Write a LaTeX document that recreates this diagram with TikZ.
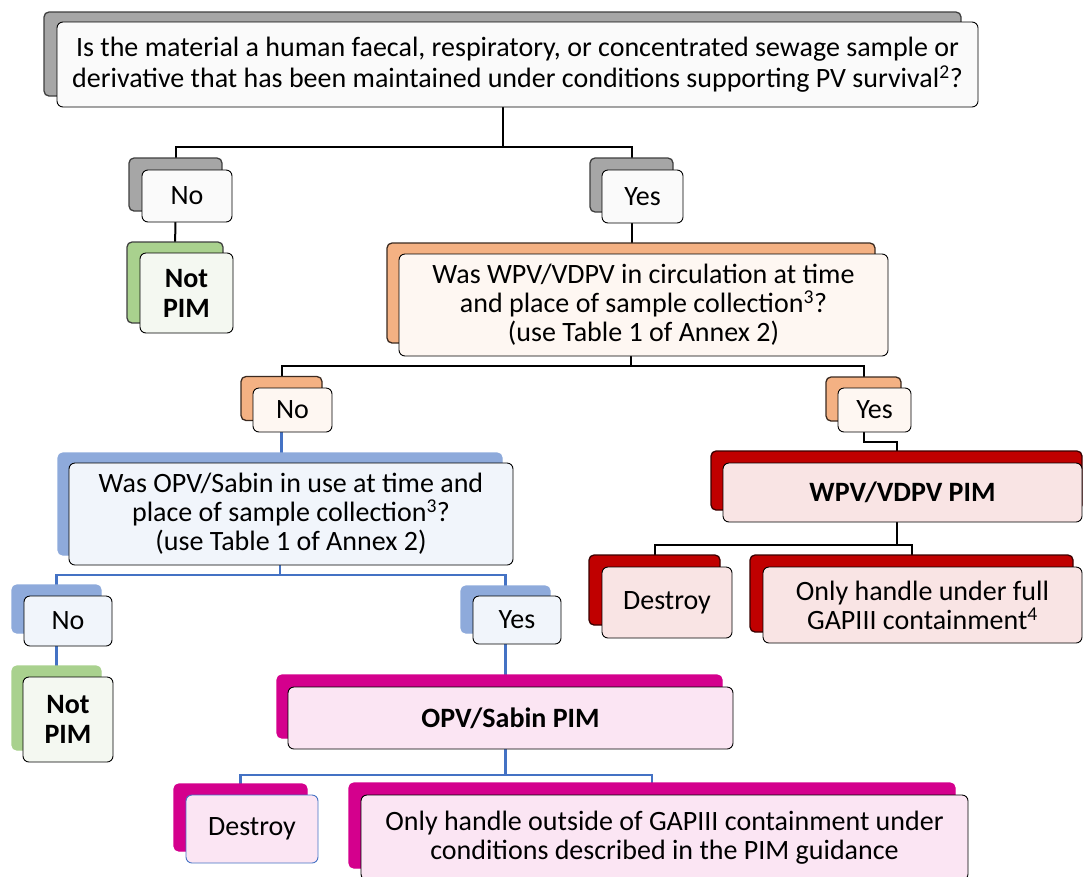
\documentclass[tikz,border=0pt]{standalone}
\usepackage{fontspec}
\setmainfont{Carlito}
\usetikzlibrary{backgrounds}
\definecolor{grayb}{HTML}{A6A6A6}
\definecolor{grayd}{HTML}{3F3F3F}
\definecolor{grayf}{HTML}{FAFAFA}
\definecolor{greenb}{HTML}{A9D18E}
\definecolor{greenf}{HTML}{F4F8F1}
\definecolor{orangeb}{HTML}{F4B183}
\definecolor{oranged}{HTML}{3B2A20}
\definecolor{orangef}{HTML}{FEF7F2}
\definecolor{blueb}{HTML}{8EAADB}
\definecolor{bluef}{HTML}{F1F5FB}
\definecolor{redb}{HTML}{C00000}
\definecolor{redd}{HTML}{3A0000}
\definecolor{redf}{HTML}{F9E4E4}
\definecolor{magb}{HTML}{D4008D}
\definecolor{magf}{HTML}{FBE5F3}
\definecolor{conblue}{HTML}{4472C4}
\begin{document}
\begin{tikzpicture}[x=1pt,y=-1pt,
  bk/.style={rectangle,rounded corners=5pt,inner sep=0pt,outer sep=0pt,line width=1.3pt},
  fr/.style={rectangle,rounded corners=6pt,draw=black,line width=0.9pt,inner sep=0pt,outer sep=0pt,align=center,font=\fontsize{28}{29}\selectfont},
  bf/.style={font=\fontsize{28}{30}\selectfont\bfseries},
  bl/.style={line width=2pt,draw=black},
  blu/.style={line width=2.2pt,draw=conblue},
]
\useasboundingbox (0,0) rectangle (1083,876);
% top
\node[bk,fill=grayb,draw=grayd,minimum width=917pt,minimum height=84pt] (topb) at (502.5,54) {};
\node[fr,fill=grayf,minimum width=921pt,minimum height=85pt,font=\fontsize{28}{31}\selectfont] (topf) at (517.5,64.5) {Is the material a human faecal, respiratory, or concentrated sewage sample or\\derivative that has been maintained under conditions supporting PV survival\textsuperscript{2}?};
% level 1
\node[bk,fill=grayb,draw=grayd,minimum width=93pt,minimum height=53pt] (no1b) at (175.5,184.5) {};
\node[fr,fill=grayf,minimum width=90pt,minimum height=52pt] (no1f) at (187,196) {No};
\node[bk,fill=grayb,draw=grayd,minimum width=83pt,minimum height=54pt] (yes1b) at (631.5,185) {};
\node[fr,fill=grayf,minimum width=81pt,minimum height=53pt] (yes1f) at (642.5,196.5) {Yes};
\node[bk,fill=greenb,draw=grayd,minimum width=96pt,minimum height=81pt] (np1b) at (175,282.5) {};
\node[fr,fill=greenf,bf,minimum width=93pt,minimum height=80pt] (np1f) at (186.5,293) {Not\\PIM};
% orange question
\node[bk,fill=orangeb,draw=oranged,minimum width=488pt,minimum height=100pt] (oqb) at (631,293) {};
\node[fr,fill=orangef,minimum width=489pt,minimum height=102pt] (oqf) at (643.5,305) {Was WPV/VDPV in circulation at time\\and place of sample collection\textsuperscript{3}?\\(use Table 1 of Annex 2)};
\node[bk,fill=orangeb,draw=oranged,minimum width=81pt,minimum height=44pt] (no2b) at (281.5,398.5) {};
\node[fr,fill=orangef,minimum width=79pt,minimum height=44pt] (no2f) at (292.5,410) {No};
\node[bk,fill=orangeb,draw=oranged,minimum width=75pt,minimum height=44pt] (yes2b) at (863.5,399) {};
\node[fr,fill=orangef,minimum width=73pt,minimum height=44pt] (yes2f) at (874.5,410) {Yes};
% red branch
\node[bk,fill=redb,draw=redd,minimum width=371pt,minimum height=59pt] (wpvb) at (896.5,480.5) {};
\node[fr,fill=redf,bf,minimum width=359pt,minimum height=59pt] (wpvf) at (902.5,492.5) {WPV/VDPV PIM};
\node[bk,fill=redb,draw=redd,minimum width=131pt,minimum height=70pt] (rdb) at (654.5,590) {};
\node[fr,fill=redf,minimum width=130pt,minimum height=71pt] (rdf) at (667,602.5) {Destroy};
\node[bk,fill=redb,draw=redd,minimum width=323pt,minimum height=77pt] (rfb) at (911.5,593.5) {};
\node[fr,fill=redf,minimum width=319pt,minimum height=76pt] (rff) at (922.5,605) {Only handle under full\\GAPIII containment\textsuperscript{4}};
% blue question
\node[bk,fill=blueb,draw=blueb,minimum width=444pt,minimum height=102pt] (qbb) at (280,504) {};
\node[fr,fill=bluef,minimum width=444pt,minimum height=102pt] (qbf) at (291,514) {Was OPV/Sabin in use at time and\\place of sample collection\textsuperscript{3}?\\(use Table 1 of Annex 2)};
\node[bk,fill=blueb,draw=blueb,minimum width=89pt,minimum height=48pt] (no3b) at (56.5,609) {};
\node[fr,fill=bluef,minimum width=88pt,minimum height=50pt] (no3f) at (68,621) {No};
\node[bk,fill=blueb,draw=blueb,minimum width=89pt,minimum height=47pt] (yes3b) at (505.5,609.5) {};
\node[fr,fill=bluef,minimum width=88pt,minimum height=48pt] (yes3f) at (517,620) {Yes};
\node[bk,fill=greenb,draw=greenb,minimum width=89pt,minimum height=84pt] (np2b) at (56.5,708) {};
\node[fr,fill=greenf,bf,minimum width=90pt,minimum height=85pt] (np2f) at (68,719.5) {Not\\PIM};
% magenta branch
\node[bk,fill=magb,draw=magb,minimum width=445pt,minimum height=63pt] (opvb) at (499.5,706.5) {};
\node[fr,fill=magf,bf,minimum width=445pt,minimum height=62pt] (opvf) at (510.5,718) {OPV/Sabin PIM};
\node[bk,fill=magb,draw=magb,minimum width=133pt,minimum height=67pt] (mdb) at (240.5,817.5) {};
\node[fr,fill=magf,draw=conblue,minimum width=132pt,minimum height=68pt] (mdf) at (252,829) {Destroy};
\node[bk,fill=magb,draw=magb,minimum width=606pt,minimum height=85pt] (mob) at (652,825.5) {};
\node[fr,fill=magf,minimum width=607pt,minimum height=85pt] (mof) at (664.5,837.5) {Only handle outside of GAPIII containment under\\conditions described in the PIM guidance};
% connectors
\begin{scope}[on background layer]
\draw[bl] (topb.center) -- (topb.center |- 0,147);
\draw[bl] (no1b.center) |- (yes1b.center |- 0,147) -- (yes1b.center);
\draw[bl] (no1b.center) -- (np1b.center);
\draw[bl] (yes1b.center) -- (yes1b.center |- oqb.center);
\draw[bl] (oqb.center) -- (oqb.center |- 0,366);
\draw[bl] (no2b.center) |- (yes2b.center |- 0,366) -- (yes2b.center);
\draw[blu] (no2b.center) -- (no2b.center |- qbb.center);
\draw[bl] (yes2b.center) |- (wpvb.center |- 0,442) -- (wpvb.center);
\draw[bl] (wpvb.center) -- (wpvb.center |- 0,545);
\draw[bl] (rdb.center) |- (rfb.center |- 0,545) -- (rfb.center);
\draw[blu] (qbb.center) -- (qbb.center |- 0,575);
\draw[blu] (no3b.center) |- (yes3b.center |- 0,575) -- (yes3b.center);
\draw[blu] (no3b.center) -- (np2b.center);
\draw[blu] (yes3b.center) -- (yes3b.center |- opvb.center);
\draw[blu] (yes3b.center |- opvb.center) -- (yes3b.center |- 0,775);
\draw[blu] (mdb.center) |- (mob.center |- 0,775) -- (mob.center);
\end{scope}
\end{tikzpicture}
\end{document}
